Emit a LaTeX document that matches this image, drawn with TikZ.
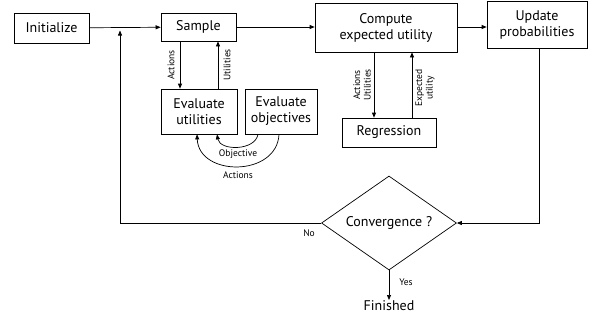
\documentclass[tikz,border=0pt]{standalone}
\usepackage{fontspec}
\setmainfont{PT Sans}
\usetikzlibrary{arrows.meta,shapes.geometric}
\begin{document}
\begin{tikzpicture}[x=1pt,y=-1pt,
  line width=0.7pt,
  box/.style={draw,rectangle,inner sep=0pt,align=center,font=\fontsize{14}{16}\selectfont},
  lab/.style={font=\fontsize{9.5}{10.5}\selectfont,align=center,inner sep=0pt},
  arr/.style={-{Triangle[length=5pt,width=4pt]}}]
\useasboundingbox (0,0) rectangle (597,325);
\node[box,minimum width=75pt,minimum height=30pt] (init) at (51.5,28) {Initialize};
\node[box,minimum width=75pt,minimum height=28pt] (sample) at (198.5,27) {Sample};
\node[box,minimum width=142pt,minimum height=49pt] (compute) at (386,27.5) {Compute\\expected utility};
\node[box,minimum width=100pt,minimum height=47pt] (update) at (537,24.5) {Update\\probabilities};
\node[box,minimum width=76pt,minimum height=45pt] (evalu) at (199,111.5) {Evaluate\\utilities};
\node[box,minimum width=72pt,minimum height=45pt] (evalo) at (281,111.5) {Evaluate\\objectives};
\node[box,minimum width=94pt,minimum height=29pt] (regr) at (389,132.5) {Regression};
\node[draw,diamond,aspect=1.436,minimum width=135pt,minimum height=94pt,inner sep=0pt,font=\fontsize{14}{16}\selectfont] (conv) at (389,223) {Convergence ?};
\node[font=\fontsize{14}{16}\selectfont,inner sep=0pt,anchor=north] (fin) at (389,300) {Finished};
\coordinate (fbtop) at (120,30.5);

\draw[arr] (init) -- (sample);
\draw[arr] (sample) -- (compute.west |- sample);
\draw[arr] (compute.east |- 0,27) -- (update.west |- 0,27);

\draw[arr] ([xshift=-18.5pt]sample.south) -- ([xshift=-19pt]evalu.north)
  node[lab,midway,rotate=90,yshift=9pt] {Actions};
\draw[arr] ([xshift=19pt]evalu.north) -- ([xshift=19.5pt]sample.south)
  node[lab,midway,rotate=90,yshift=-9pt] {Utilities};

\draw[arr] (evalo.south -| 258,0) .. controls (255,151) and (220,151) .. (evalu.south -| 217,0);
\draw[arr] (evalo.south -| 279,0) .. controls (277,177) and (199,177) .. (evalu.south -| 197,0);
\node[lab] (lobj) at (238,154) {Objective};
\node[lab] (lact) at (238,175) {Actions};

\draw[arr] ([xshift=-12pt]compute.south) -- ([xshift=-15pt]regr.north)
  node[lab,midway,rotate=90,yshift=14pt,yshift=-2pt] {Actions\\Utilities};
\draw[arr] ([xshift=23pt]regr.north) -- ([xshift=26pt]compute.south)
  node[lab,midway,rotate=90,yshift=-13pt,xshift=-3pt] {Expected\\utility};

\draw[arr] ([xshift=2pt]update.south) |- (conv.east);
\draw[arr] (conv.west) -| (fbtop);
\node[lab] (no) at (309,233) {No};
\draw[arr] (conv.south) -- (fin.north);
\node[lab] (yes) at (406,282) {Yes};
\end{tikzpicture}
\end{document}
